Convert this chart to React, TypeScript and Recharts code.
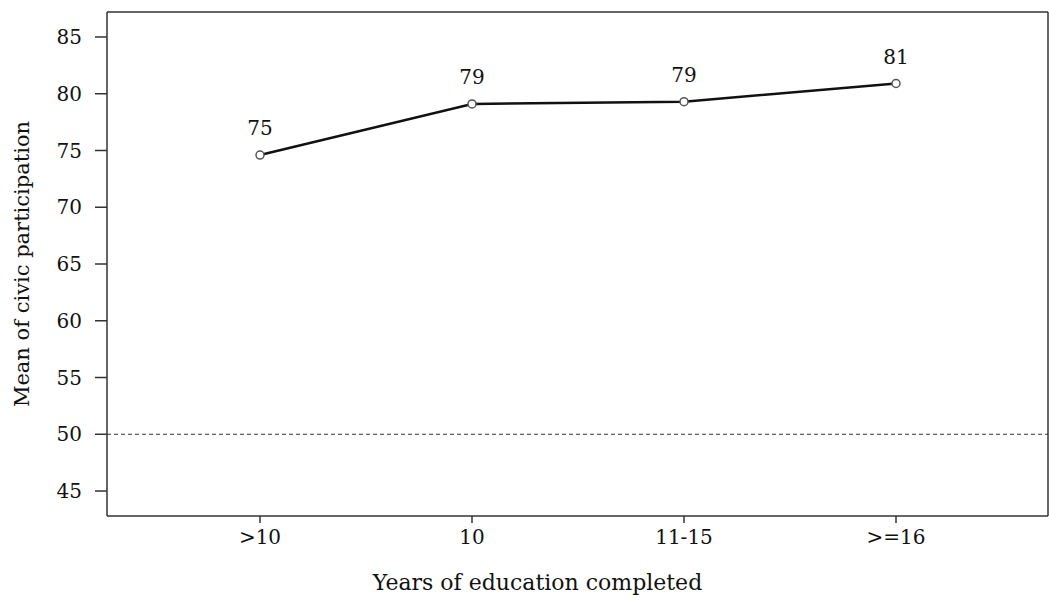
import React from 'react';
import { LineChart, Line, XAxis, YAxis, ReferenceLine, CartesianGrid, LabelList } from 'recharts';

const categories = ['>10', '10', '11-15', '>=16'];
const meanValues = [74.6, 79.1, 79.3, 80.9];
const valueLabels = ['75', '79', '79', '81'];
const yTicks = [45, 50, 55, 60, 65, 70, 75, 80, 85];
const yDomain = [42.8, 87.2];

const data = categories.map((c, i) => ({ cat: c, mean: meanValues[i], lbl: valueLabels[i] }));

const FONT = '"DejaVu Serif", serif';
const AXIS = '#333';
const TEXT = '#111';

export default function App() {
  return (
    <div style={{ position: 'absolute', left: 0, top: 0, background: '#fff' }}>
      <LineChart width={1049} height={600} data={data} margin={{ top: 12, right: 1, bottom: 0, left: 0 }}>
        <CartesianGrid
          stroke={AXIS}
          strokeWidth={1.5}
          horizontalCoordinatesGenerator={(p: any) => [p.offset.top]}
          verticalCoordinatesGenerator={(p: any) => [p.offset.left + p.offset.width]}
        />
        <XAxis
          dataKey="cat"
          height={84}
          padding={{ left: 153, right: 152 }}
          stroke={AXIS}
          strokeWidth={1.5}
          tickSize={7}
          tickMargin={7}
          tick={{ fill: TEXT, fontSize: 20, fontFamily: FONT }}
          tickLine={{ stroke: AXIS, strokeWidth: 1.5 }}
          label={{
            content: (p: any) => {
              const vb = p.viewBox;
              return (
                <text x={vb.x + vb.width / 2 - 40} y={vb.y + vb.height - 10} textAnchor="middle" fontSize={22} fontFamily={FONT} fill={TEXT}>
                  Years of education completed
                </text>
              );
            },
          }}
        />
        <YAxis
          width={107}
          domain={yDomain}
          ticks={yTicks}
          allowDataOverflow
          stroke={AXIS}
          strokeWidth={1.5}
          tickSize={12}
          tickMargin={13}
          tick={{ fill: TEXT, fontSize: 20, fontFamily: FONT }}
          tickLine={{ stroke: AXIS, strokeWidth: 1.5 }}
          label={{
            content: (p: any) => {
              const vb = p.viewBox;
              const cx = 22;
              const cy = vb.y + vb.height / 2;
              return (
                <text x={cx} y={cy} transform={`rotate(-90 ${cx} ${cy})`} textAnchor="middle" dominantBaseline="central" fontSize={21} fontFamily={FONT} fill={TEXT}>
                  Mean of civic participation
                </text>
              );
            },
          }}
        />
        <ReferenceLine y={50} stroke={AXIS} strokeWidth={1} strokeDasharray="4 3" />
        <Line
          dataKey="mean"
          stroke="#111"
          strokeWidth={2.5}
          isAnimationActive={false}
          dot={{ r: 4, stroke: '#555', strokeWidth: 1.5, fill: '#fff' }}
        >
          <LabelList dataKey="lbl" position="top" offset={20} fontSize={20} fontFamily={FONT} fill={TEXT} />
        </Line>
      </LineChart>
    </div>
  );
}
